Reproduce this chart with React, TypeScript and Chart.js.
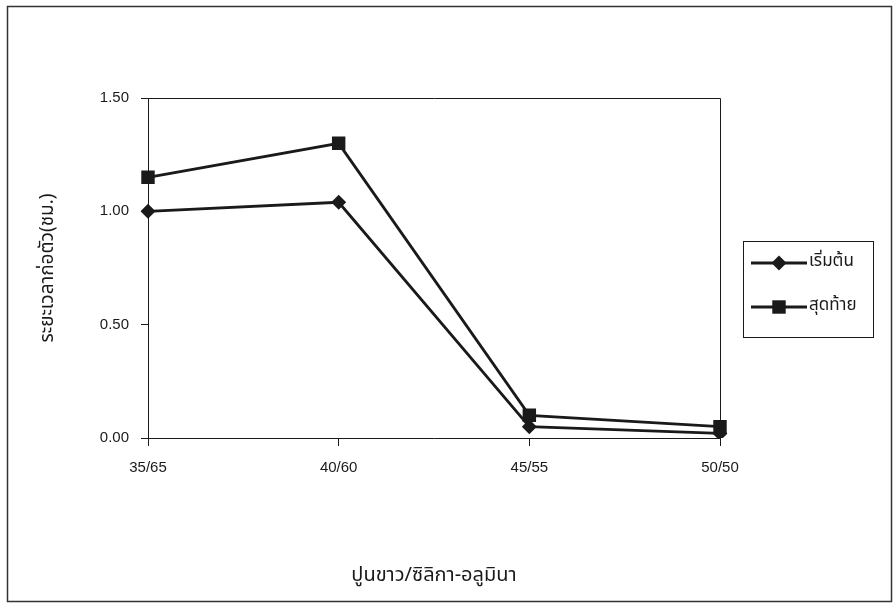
import React, { useEffect, useRef } from "react";
import { Chart, registerables } from "chart.js";

Chart.register(...registerables);

// Mix ratios (lime / silica-alumina)
const categories: string[] = ["35/65", "40/60", "45/55", "50/50"];
// Initial setting time (hours)
const initialSet: number[] = [1.0, 1.04, 0.05, 0.02];
// Final setting time (hours)
const finalSet: number[] = [1.15, 1.3, 0.1, 0.05];
const seriesNames: string[] = ["เริ่มต้น", "สุดท้าย"];
const yTitle = "ระยะเวลาก่อตัว(ชม.)";
const xTitle = "ปูนขาว/ซิลิกา-อลูมินา";

const LATIN = '"Liberation Sans", Arial, sans-serif';
const THAI = '"Noto Sans Thai", "Loma", "Garuda", "Tahoma", "DejaVu Sans", "Liberation Sans", sans-serif';
const INK = "#1a1a1a";

const framePlugin = {
  id: "frame",
  afterDraw(chart: any) {
    const { ctx, chartArea } = chart;
    ctx.save();
    // outer frame
    ctx.strokeStyle = "#333";
    ctx.lineWidth = 1.5;
    ctx.strokeRect(7.5, 6.5, 884, 595);
    // top and right edges of plot area
    ctx.strokeStyle = INK;
    ctx.lineWidth = 1;
    ctx.beginPath();
    ctx.moveTo(Math.round(chartArea.left) + 0.5, Math.round(chartArea.top) + 0.5);
    ctx.lineTo(Math.round(chartArea.right) + 0.5, Math.round(chartArea.top) + 0.5);
    ctx.lineTo(Math.round(chartArea.right) + 0.5, Math.round(chartArea.bottom) + 0.5);
    ctx.stroke();

    // legend box
    const bx = 743.5, by = 241.5, bw = 130, bh = 96;
    ctx.strokeRect(bx, by, bw, bh);
    const rows = [263, 307];
    chart.data.datasets.forEach((ds: any, i: number) => {
      const y = rows[i];
      ctx.strokeStyle = INK;
      ctx.lineWidth = 2.8;
      ctx.beginPath();
      ctx.moveTo(751, y);
      ctx.lineTo(807, y);
      ctx.stroke();
      ctx.fillStyle = INK;
      const cx = 779;
      const r = ds.pointRadius;
      ctx.beginPath();
      if (ds.pointStyle === "rectRot") {
        ctx.moveTo(cx - r, y);
        ctx.lineTo(cx, y - r);
        ctx.lineTo(cx + r, y);
        ctx.lineTo(cx, y + r);
        ctx.closePath();
      } else {
        const s = r * Math.SQRT1_2;
        ctx.rect(cx - s, y - s, 2 * s, 2 * s);
      }
      ctx.fill();
      ctx.font = `17px ${THAI}`;
      ctx.textBaseline = "middle";
      ctx.textAlign = "left";
      ctx.fillText(ds.label, 809, y);
    });
    ctx.restore();
  },
};

export default function App() {
  const ref = useRef<HTMLCanvasElement | null>(null);

  useEffect(() => {
    document.body.style.margin = "0";
    const canvas = ref.current;
    if (!canvas) return;
    const chart = new Chart(canvas, {
      type: "line",
      data: {
        labels: categories,
        datasets: [
          {
            label: seriesNames[0],
            data: initialSet,
            borderColor: INK,
            backgroundColor: INK,
            borderWidth: 2.8,
            pointStyle: "rectRot",
            pointRadius: 7.5,
            pointBorderWidth: 0,
            tension: 0,
          },
          {
            label: seriesNames[1],
            data: finalSet,
            borderColor: INK,
            backgroundColor: INK,
            borderWidth: 2.8,
            pointStyle: "rect",
            pointRadius: 9.5,
            pointBorderWidth: 0,
            tension: 0,
          },
        ],
      },
      options: {
        responsive: false,
        animation: false,
        layout: { padding: { top: 98, right: 174, left: 0, bottom: 0 } },
        plugins: {
          legend: { display: false },
          tooltip: { enabled: false },
        },
        scales: {
          x: {
            type: "category",
            offset: false,
            grid: { drawOnChartArea: false, drawTicks: true, tickLength: 8, color: INK },
            border: { color: INK, width: 1 },
            ticks: {
              color: INK,
              font: { family: LATIN, size: 15 },
              padding: 13,
              maxRotation: 0,
              autoSkip: false,
            },
            title: {
              display: true,
              text: xTitle,
              color: INK,
              font: { family: THAI, size: 20 },
              padding: { bottom: 15 },
            },
            afterFit(scale: any) {
              scale.height = 604 - 438;
              scale.paddingLeft = 0;
              scale.paddingRight = 0;
            },
          },
          y: {
            min: 0,
            max: 1.5,
            grid: { drawOnChartArea: false, drawTicks: true, tickLength: 7, color: INK },
            border: { color: INK, width: 1 },
            ticks: {
              stepSize: 0.5,
              color: INK,
              font: { family: LATIN, size: 15 },
              padding: 12,
              callback: (v: any) => Number(v).toFixed(2),
            },
            title: {
              display: true,
              text: yTitle,
              color: INK,
              font: { family: THAI, size: 19 },
              padding: { top: 38 },
            },
            afterFit(scale: any) {
              scale.width = 148;
              scale.paddingTop = 0;
              scale.paddingBottom = 0;
            },
          },
        },
      },
      plugins: [framePlugin],
    });
    return () => chart.destroy();
  }, []);

  return (
    <div style={{ width: 894, height: 604, background: "#fff" }}>
      <canvas ref={ref} width={894} height={604} />
    </div>
  );
}
